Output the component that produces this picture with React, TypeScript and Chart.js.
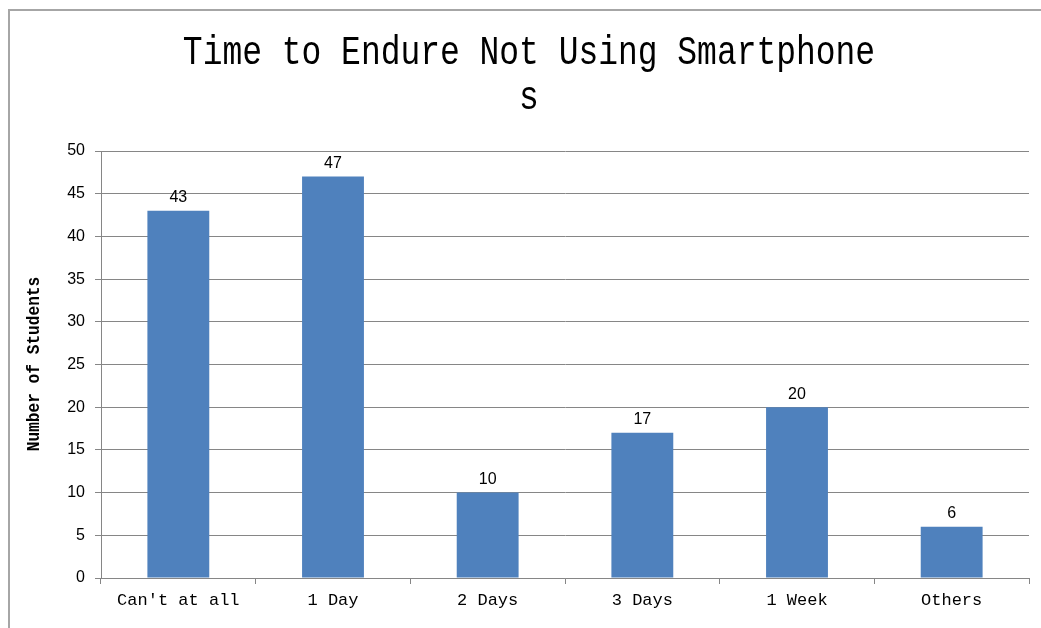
import React, { useEffect, useRef } from "react";
import { Chart, registerables } from "chart.js";

Chart.register(...registerables);

const categories = ["Can't at all", "1 Day", "2 Days", "3 Days", "1 Week", "Others"];
const students = [43, 47, 10, 17, 20, 6];
const titleLines = ["Time to Endure Not Using Smartphone", "s"];
const yAxisTitle = "Number of Students";

const PLOT_LEFT = 101;
const PLOT_RIGHT = 1029;
const PLOT_TOP = 151;
const PLOT_BOTTOM = 578;
const W = 1041;
const H = 628;

const decorPlugin = {
  id: "decor",
  beforeDraw(chart: any) {
    const ctx = chart.ctx;
    ctx.save();
    ctx.fillStyle = "#ffffff";
    ctx.fillRect(0, 0, W, H);
    ctx.strokeStyle = "#a6a6a6";
    ctx.lineWidth = 2;
    ctx.beginPath();
    ctx.moveTo(9, H);
    ctx.lineTo(9, 10);
    ctx.lineTo(W, 10);
    ctx.stroke();
    ctx.restore();
  },
  afterDraw(chart: any) {
    const ctx = chart.ctx;
    ctx.save();
    ctx.fillStyle = "#000000";
    ctx.textAlign = "center";
    ctx.textBaseline = "middle";
    ctx.font = "40px 'Liberation Mono', monospace";
    ctx.save();
    ctx.translate(529, 53);
    ctx.scale(0.824, 1);
    ctx.fillText(titleLines[0], 0, 0);
    ctx.restore();
    ctx.save();
    ctx.translate(529, 98);
    ctx.scale(0.824, 1);
    ctx.fillText(titleLines[1], 0, 0);
    ctx.restore();
    // y axis title
    ctx.translate(34, 364);
    ctx.rotate(-Math.PI / 2);
    ctx.scale(0.85, 1);
    ctx.font = "bold 19px 'Liberation Mono', monospace";
    ctx.fillText(yAxisTitle, 0, 0);
    ctx.restore();
    // data labels
    const meta = chart.getDatasetMeta(0);
    ctx.save();
    ctx.fillStyle = "#000000";
    ctx.textAlign = "center";
    ctx.textBaseline = "bottom";
    ctx.font = "16px 'Liberation Sans', sans-serif";
    meta.data.forEach((bar: any, i: number) => {
      ctx.fillText(String(students[i]), bar.x, bar.y - 5);
    });
    ctx.restore();
  },
};

export default function App() {
  const ref = useRef<HTMLCanvasElement>(null);
  useEffect(() => {
    document.body.style.margin = "0";
    const chart = new Chart(ref.current!, {
      type: "bar",
      data: {
        labels: categories,
        datasets: [
          {
            data: students,
            backgroundColor: "#4F81BD",
            borderWidth: 0,
            barPercentage: 0.4,
            categoryPercentage: 1,
          },
        ],
      },
      options: {
        animation: false,
        responsive: false,
        maintainAspectRatio: false,
        layout: { padding: { top: PLOT_TOP, right: W - PLOT_RIGHT, left: 0, bottom: 0 } },
        plugins: { legend: { display: false }, tooltip: { enabled: false }, title: { display: false } },
        scales: {
          x: {
            offset: true,
            grid: {
              offset: true,
              drawOnChartArea: false,
              drawTicks: true,
              tickLength: 6,
              color: "#868686",
            },
            border: { color: "#868686", width: 1 },
            ticks: {
              color: "#000000",
              font: { family: "'Liberation Mono', monospace", size: 17 },
              padding: 6,
              maxRotation: 0,
            },
            afterFit(scale: any) {
              scale.height = H - PLOT_BOTTOM;
            },
          },
          y: {
            min: 0,
            max: 50,
            ticks: {
              stepSize: 5,
              color: "#000000",
              font: { family: "'Liberation Sans', sans-serif", size: 16 },
              padding: 10,
            },
            grid: { color: "#868686", tickLength: 6, drawTicks: true },
            border: { color: "#868686", width: 1 },
            afterFit(scale: any) {
              scale.width = PLOT_LEFT;
            },
          },
        },
      },
      plugins: [decorPlugin],
    });
    return () => chart.destroy();
  }, []);
  return <canvas ref={ref} width={W} height={H} style={{ display: "block" }} />;
}
